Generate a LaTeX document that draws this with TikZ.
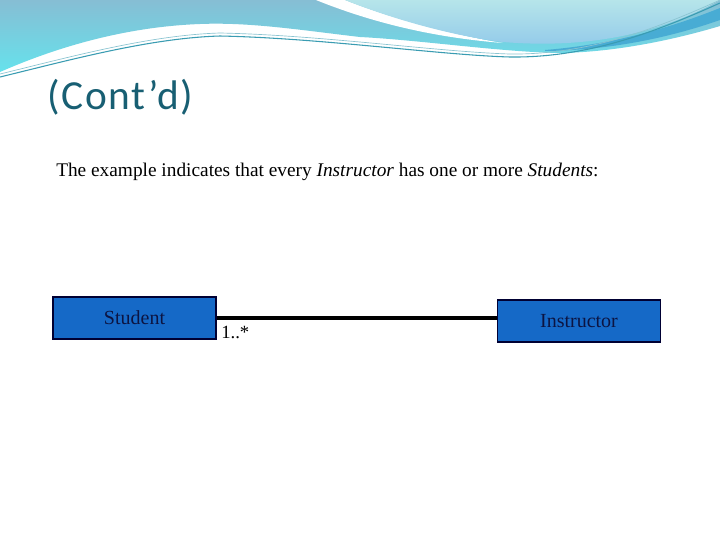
\documentclass[tikz,border=0pt]{standalone}
\usepackage{fontspec}
\setmainfont{Liberation Serif}
\newfontfamily\carlito[LetterSpace=4]{Carlito}
\definecolor{titlec}{HTML}{185F73}
\definecolor{boxfill}{HTML}{1569C7}
\definecolor{boxtext}{HTML}{0C1442}
\definecolor{bluetop}{HTML}{86BED4}
\definecolor{bluebot}{HTML}{66E2EC}
\definecolor{lighttop}{HTML}{B6E5EA}
\definecolor{lightbot}{HTML}{90C8EA}
\definecolor{bandc}{HTML}{48ACD4}
\definecolor{linec}{HTML}{3A9CB2}
\tikzset{
  classbox/.style={draw=black!80!blue, line width=0.8pt, fill=boxfill, text=boxtext,
    minimum width=122.25pt, minimum height=31.5pt, inner sep=0pt, font=\fontsize{15}{17}\selectfont},
  assoc/.style={line width=2.6pt, black},
}
\begin{document}
\begin{tikzpicture}[x=0.75pt,y=-0.75pt]
\useasboundingbox (0,0) rectangle (720,540);
\fill[white] (0,0) rectangle (720,540);
% header decoration
\path[top color=bluetop, bottom color=bluebot]
  (0,0) -- (720,0) -- (720,26) .. controls (680,38) and (620,52) .. (560,53)
  .. controls (500,52) and (420,40) .. (360,37)
  .. controls (300,30) and (250,22) .. (200,24)
  .. controls (120,27) and (50,50) .. (0,72) -- cycle;
\fill[white] (316,0) .. controls (378,25) and (440,38) .. (503,43)
  .. controls (470,38) and (400,22) .. (345,0) -- cycle;
\path[top color=lighttop, bottom color=lightbot]
  (345,0) .. controls (400,22) and (460,37) .. (503,42)
  .. controls (600,50) and (670,28) .. (720,0) -- cycle;
\fill[bandc] (545,50) .. controls (620,44) and (680,24) .. (720,8) -- (720,20)
  .. controls (680,34) and (620,50) .. (545,51) -- cycle;
\draw[linec, line width=0.8pt] (0,77) .. controls (70,60) and (150,38) .. (220,36)
  .. controls (320,38) and (440,55) .. (510,57) .. controls (590,58) and (660,30) .. (720,3);
\draw[linec!60, line width=0.5pt] (0,74) .. controls (70,57) and (150,35) .. (220,33)
  .. controls (320,35) and (440,52) .. (510,54) .. controls (590,55) and (660,27) .. (720,0);
% title
\node[anchor=base west, inner sep=0pt, text=titlec, font=\carlito\fontsize{31}{36}\selectfont]
  (title) at (47,109) {(Cont’d)};
% body text
\node[anchor=base west, inner sep=0pt, font=\fontsize{14.5}{17}\selectfont]
  (body) at (56,176) {The example indicates that every \textit{Instructor} has one or more \textit{Students}:};
% diagram
\node[classbox] (student) at (134.5,318) {Student};
\node[classbox] (instructor) at (579,321) {Instructor};
\draw[assoc] (student.east) -- (student.east -| instructor.west);
\node[anchor=base west, inner sep=0pt, font=\fontsize{14}{16}\selectfont] (mult) at (221,338) {1..*};
\end{tikzpicture}
\end{document}
